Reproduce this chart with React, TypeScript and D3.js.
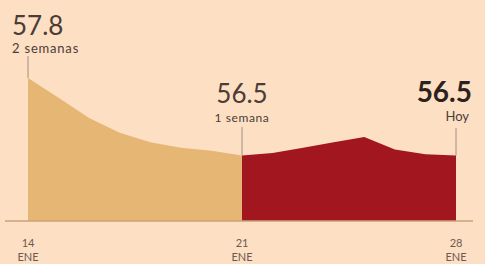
import * as d3 from "d3";
import { useLayoutEffect } from "react";

// daily values, 14 ENE .. 28 ENE
const days = [14, 15, 16, 17, 18, 19, 20, 21, 22, 23, 24, 25, 26, 27, 28];
const values = [57.8, 57.47, 57.13, 56.88, 56.72, 56.63, 56.58, 56.5, 56.54, 56.63, 56.72, 56.81, 56.6, 56.52, 56.5];
const tickDays = [14, 21, 28];
const monthLabel = "ENE";
const splitDay = 21;

const W = 485;
const H = 264;

const App = () => {
  useLayoutEffect(() => {
    document.body.style.margin = "0";
    document.body.style.overflow = "hidden";
  }, []);

  const data = days.map((d, i) => ({ day: d, v: values[i] }));
  const before = data.filter((d) => d.day <= splitDay);
  const after = data.filter((d) => d.day >= splitDay);

  const x = d3.scaleLinear().domain([14, 28]).range([28, 456]);
  const y = d3.scaleLinear().domain([55.4, 57.8]).range([221, 78]);

  const areaSmooth = d3
    .area<{ day: number; v: number }>()
    .x((d) => x(d.day))
    .y0(y(55.4))
    .y1((d) => y(d.v))
    .curve(d3.curveMonotoneX);
  const areaSharp = areaSmooth.curve(d3.curveLinear);

  const first = data[0];
  const mid = data.find((d) => d.day === splitDay)!;
  const last = data[data.length - 1];

  const txt = "#4b3c36";
  const font = "Lato, 'Open Sans', sans-serif";

  return (
    <svg width={W} height={H} style={{ display: "block", background: "#fddfc3" }} fontFamily={font}>
      <rect width={W} height={H} fill="#fddfc3" />
      <path d={areaSmooth(before) || ""} fill="#e6b674" />
      <path d={areaSharp(after) || ""} fill="#a1161f" />
      <line x1={5} x2={473} y1={y(55.4)} y2={y(55.4)} stroke="#c9a379" strokeWidth={1.5} />

      {/* leader lines */}
      <line x1={x(first.day)} x2={x(first.day)} y1={56} y2={y(first.v)} stroke="#8a7a70" strokeWidth={0.8} />
      <line x1={x(mid.day)} x2={x(mid.day)} y1={127} y2={y(mid.v)} stroke="#8a7a70" strokeWidth={0.8} />
      <line x1={x(last.day)} x2={x(last.day)} y1={128} y2={y(last.v)} stroke="#8a7a70" strokeWidth={0.8} />

      {/* annotations */}
      <text x={12} y={35} fontSize={26} fill={txt}>{first.v.toFixed(1)}</text>
      <text x={12} y={53} fontSize={13} fill={txt} letterSpacing={0.8}>2 semanas</text>

      <text x={x(mid.day)} y={103} fontSize={26} fill={txt} textAnchor="middle">{mid.v.toFixed(1)}</text>
      <text x={x(mid.day)} y={122} fontSize={12} fill={txt} textAnchor="middle" letterSpacing={0.6}>1 semana</text>

      <text x={472} y={102} fontSize={28} fontWeight="bold" fill="#2b2220" textAnchor="end">{last.v.toFixed(1)}</text>
      <text x={469} y={121} fontSize={13} fill={txt} textAnchor="end">Hoy</text>

      {/* x axis labels */}
      {tickDays.map((d) => (
        <g key={d} transform={`translate(${x(d)},0)`} fill="#6b5a50" textAnchor="middle">
          <text y={247} fontSize={11}>{d}</text>
          <text y={261} fontSize={11}>{monthLabel}</text>
        </g>
      ))}
    </svg>
  );
};

export default App;
